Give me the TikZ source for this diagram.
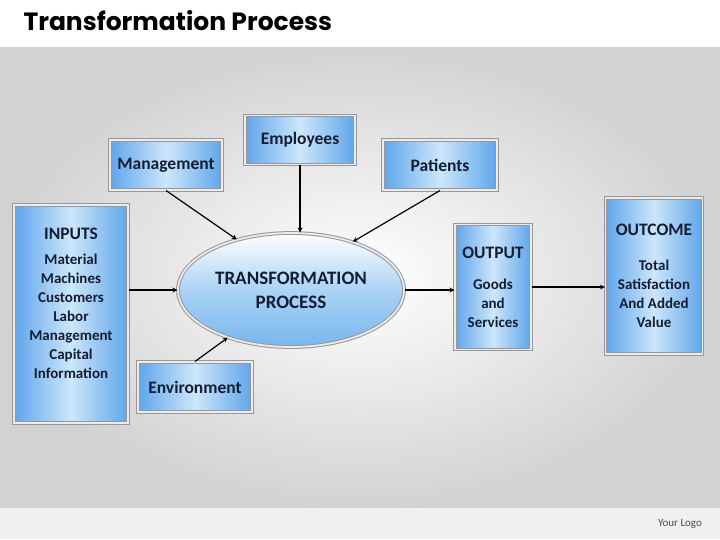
\documentclass[tikz,border=0pt]{standalone}
\usepackage{fontspec}
\setmainfont{Carlito}
\newfontfamily\titlefont{Poppins}
\usetikzlibrary{shapes.geometric}

\definecolor{boxblue}{RGB}{95,165,235}
\definecolor{boxlight}{RGB}{205,230,250}
\definecolor{ellblue}{RGB}{120,182,238}
\definecolor{inktext}{RGB}{20,30,50}
\definecolor{frame}{RGB}{150,150,155}

\begin{document}
\begin{tikzpicture}[>=stealth, x=1pt, y=-1pt]

  % Styles
  \tikzset{
    box/.style={rectangle, draw=frame, line width=1pt, double=gray!15, double distance=1.6pt,
      left color=boxblue, right color=boxblue, middle color=boxlight,
      text=inktext, align=center, inner sep=2pt, font=\fontsize{17.5}{21}\selectfont\bfseries},
    listbox/.style={box, font=\fontsize{15}{19}\selectfont\bfseries},
    process/.style={ellipse, draw=frame, line width=1pt, double=gray!15, double distance=1.8pt,
      top color=white, bottom color=ellblue, middle color=boxlight!60!ellblue,
      text=inktext, align=center, inner sep=0pt, font=\fontsize{19}{24}\selectfont\bfseries},
    link/.style={->, line width=1.2pt, black}
  }

  \useasboundingbox (0,0) rectangle (720,539);

  % --- BACKGROUND ---
  \fill[white] (0,0) rectangle (720,47);
  \shade[inner color=white, outer color=gray!35] (0,47) rectangle (720,508);
  \fill[gray!12] (0,508) rectangle (720,539);
  \node[anchor=west, font=\titlefont\bfseries\fontsize{25}{29}\selectfont] (title) at (20,21) {Transformation Process};
  \node[font=\fontsize{11}{13}\selectfont, text=gray!60!black] (logo) at (680,524) {Your Logo};

  % --- NODES ---
  \node[process, minimum width=226pt, minimum height=114pt] (TP) at (291,290) {TRANSFORMATION\\PROCESS};

  \node[box, minimum width=112pt, minimum height=50pt] (Mgmt) at (166,165) {Management};
  \node[box, minimum width=110pt, minimum height=49pt] (Emp) at (300,140) {Employees};
  \node[box, minimum width=114pt, minimum height=50pt] (Pat) at (440,165) {Patients};
  \node[box, minimum width=114pt, minimum height=50pt] (Env) at (195,387) {Environment};

  \node[listbox, minimum width=114pt, minimum height=218pt] (In) at (71,314)
    {{\fontsize{17.5}{21}\selectfont INPUTS}\\[6pt] Material\\ Machines\\ Customers\\ Labor\\ Management\\ Capital\\ Information\\[2pt]};
  \node[listbox, minimum width=76pt, minimum height=125pt] (Out) at (493,287)
    {{\fontsize{17.5}{21}\selectfont OUTPUT}\\[12pt] Goods\\ and\\ Services};
  \node[listbox, minimum width=97pt, minimum height=156pt] (Oc) at (654,276)
    {{\fontsize{17.5}{21}\selectfont OUTCOME}\\[16pt] Total\\ Satisfaction\\ And Added\\ Value};

  % --- CONNECTORS ---
  \draw[link] (Mgmt.south) -- (TP.137);
  \draw[link] (Emp.south) -- (Emp.south |- TP.north);
  \draw[link] (Pat.south) -- (TP.38);
  \draw[link] (Env.north) -- (TP.217);
  \draw[link] (TP.west -| In.east) -- (TP.west);
  \draw[link] (TP.east) -- (TP.east -| Out.west);
  \draw[link] (Out.east) -- (Out.east -| Oc.west);

\end{tikzpicture}
\end{document}
